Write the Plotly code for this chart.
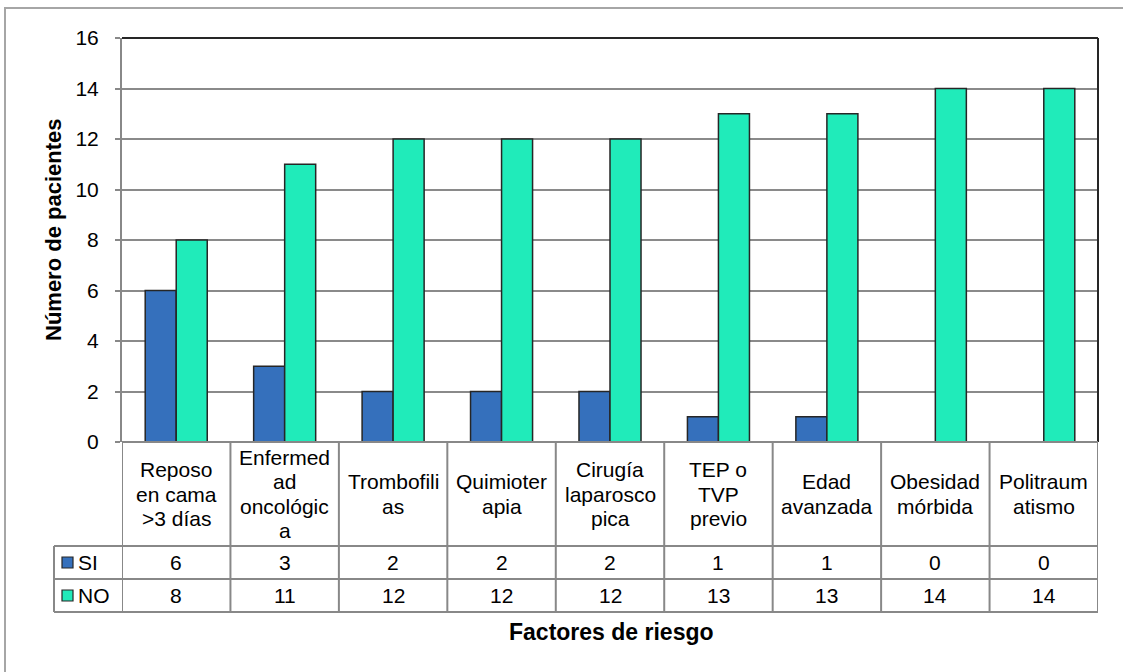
import plotly.graph_objects as go

# Factores de riesgo y número de pacientes (SI / NO)
categorias = [
    "Reposo en cama >3 días", "Enfermedad oncológica", "Trombofilias",
    "Quimioterapia", "Cirugía laparoscopica", "TEP o TVP previo",
    "Edad avanzada", "Obesidad mórbida", "Politraumatismo",
]
# Cabeceras de la tabla de datos, partidas en líneas como en la celda
etiquetas = [
    ["Reposo", "en cama", ">3 días"],
    ["Enfermed", "ad", "oncológic", "a"],
    ["Trombofili", "as"],
    ["Quimioter", "apia"],
    ["Cirugía", "laparosco", "pica"],
    ["TEP o", "TVP", "previo"],
    ["Edad", "avanzada"],
    ["Obesidad", "mórbida"],
    ["Politraum", "atismo"],
]
series = ["SI", "NO"]
valores_si = [6, 3, 2, 2, 2, 1, 1, 0, 0]
valores_no = [8, 11, 12, 12, 12, 13, 13, 14, 14]
ticks_y = [0, 2, 4, 6, 8, 10, 12, 14, 16]

COLOR_SI = "#3570BC"
COLOR_NO = "#20EBBA"
BORDE = "#262626"
GRIS = "#888888"
FUENTE = "Liberation Sans, Arial, sans-serif"

W, H = 1123, 672
L, R, T, B = 122, 25, 38, 230
PW, PH = W - L - R, H - T - B
Y0 = H - B  # fondo del área de trazado en píxeles


def px(x):
    return (x - L) / PW


def py(y):
    return (Y0 - y) / PH


fig = go.Figure()
for nombre, vals, color in [("SI", valores_si, COLOR_SI), ("NO", valores_no, COLOR_NO)]:
    fig.add_trace(go.Bar(
        x=list(range(len(categorias))), y=vals, name=nombre,
        marker=dict(color=color,
                    line=dict(color=BORDE, width=[1.5 if v > 0 else 0 for v in vals])),
        showlegend=False,
    ))

shapes = []
annotations = []

# Bordes del área de trazado (superior y derecho)
shapes.append(dict(type="line", xref="paper", yref="paper", x0=0, x1=1, y0=1, y1=1,
                   line=dict(color=BORDE, width=2)))
shapes.append(dict(type="line", xref="paper", yref="paper", x0=1, x1=1, y0=0, y1=1,
                   line=dict(color=BORDE, width=2)))

# Marco exterior del gráfico
shapes.append(dict(type="rect", xref="paper", yref="paper",
                   x0=px(5), x1=px(W + 10), y0=py(H + 10), y1=py(8),
                   line=dict(color="#A6A6A6", width=2), fillcolor="rgba(0,0,0,0)", layer="below"))

# Tabla de datos
fila_cab = 546
fila_si = 579
fila_no = 612
x_ley = 54
n = len(categorias)
linea = dict(color=GRIS, width=2)
shapes.append(dict(type="line", xref="x", yref="paper", x0=-0.5, x1=n - 0.5,
                   y0=py(Y0), y1=py(Y0), line=linea))
for yy in (fila_cab, fila_si, fila_no):
    shapes.append(dict(type="line", xref="paper", yref="paper", x0=px(x_ley), x1=1,
                       y0=py(yy), y1=py(yy), line=linea))
shapes.append(dict(type="line", xref="paper", yref="paper", x0=px(x_ley), x1=px(x_ley),
                   y0=py(fila_cab), y1=py(fila_no), line=linea))
for i in range(n + 1):
    shapes.append(dict(type="line", xref="x", yref="paper", x0=i - 0.5, x1=i - 0.5,
                       y0=py(Y0), y1=py(fila_no), line=linea))

texto = dict(family=FUENTE, size=21, color="#000000")
centro_cab = (Y0 + fila_cab) / 2
interlinea = 24.3
for i, lineas in enumerate(etiquetas):
    k = len(lineas)
    for j, t in enumerate(lineas):
        yy = centro_cab + (j - (k - 1) / 2) * interlinea
        annotations.append(dict(x=i, y=py(yy), xref="x", yref="paper", text=t,
                                showarrow=False, font=texto, xanchor="center", yanchor="middle"))
for i in range(n):
    annotations.append(dict(x=i, y=py((fila_cab + fila_si) / 2), xref="x", yref="paper",
                            text=str(valores_si[i]), showarrow=False, font=texto,
                            xanchor="center", yanchor="middle"))
    annotations.append(dict(x=i, y=py((fila_si + fila_no) / 2), xref="x", yref="paper",
                            text=str(valores_no[i]), showarrow=False, font=texto,
                            xanchor="center", yanchor="middle"))

# Claves de la leyenda dentro de la tabla
for nombre, color, (ya, yb) in [(series[0], COLOR_SI, (fila_cab, fila_si)),
                                 (series[1], COLOR_NO, (fila_si, fila_no))]:
    yc = (ya + yb) / 2
    shapes.append(dict(type="rect", xref="paper", yref="paper",
                       x0=px(62), x1=px(73), y0=py(yc + 5.5), y1=py(yc - 5.5),
                       fillcolor=color, line=dict(color=BORDE, width=1.2)))
    annotations.append(dict(x=px(76), y=py(yc), xref="paper", yref="paper", text=nombre,
                            showarrow=False, font=texto, xanchor="left", yanchor="middle"))

# Títulos de los ejes
annotations.append(dict(x=px(611), y=py(632), xref="paper", yref="paper",
                        text="<b>Factores de riesgo</b>", showarrow=False,
                        font=dict(family=FUENTE, size=23, color="#000000"),
                        xanchor="center", yanchor="middle"))
annotations.append(dict(x=px(53), y=py(230), xref="paper", yref="paper",
                        text="<b>Número de pacientes</b>", showarrow=False, textangle=-90,
                        font=dict(family=FUENTE, size=22, color="#000000"),
                        xanchor="center", yanchor="middle"))

fig.update_layout(
    width=W, height=H,
    margin=dict(l=L, r=R, t=T, b=B, autoexpand=False),
    paper_bgcolor="white", plot_bgcolor="white",
    barmode="group", bargap=0.428, bargroupgap=0,
    font=dict(family=FUENTE, color="#000000"),
    shapes=shapes, annotations=annotations,
    xaxis=dict(range=[-0.5, n - 0.5], showticklabels=False, showgrid=False,
               zeroline=False, showline=False, ticks=""),
    yaxis=dict(range=[0, 16], tickvals=ticks_y, showgrid=True, gridcolor="#8A8A8A",
               gridwidth=1.5, zeroline=False, showline=True, linecolor=GRIS, linewidth=2,
               ticks="outside", ticklen=5, tickcolor=GRIS, tickwidth=1.5,
               ticklabelstandoff=12,
               tickfont=dict(family=FUENTE, size=21, color="#000000")),
)

fig.write_html("out.html")
